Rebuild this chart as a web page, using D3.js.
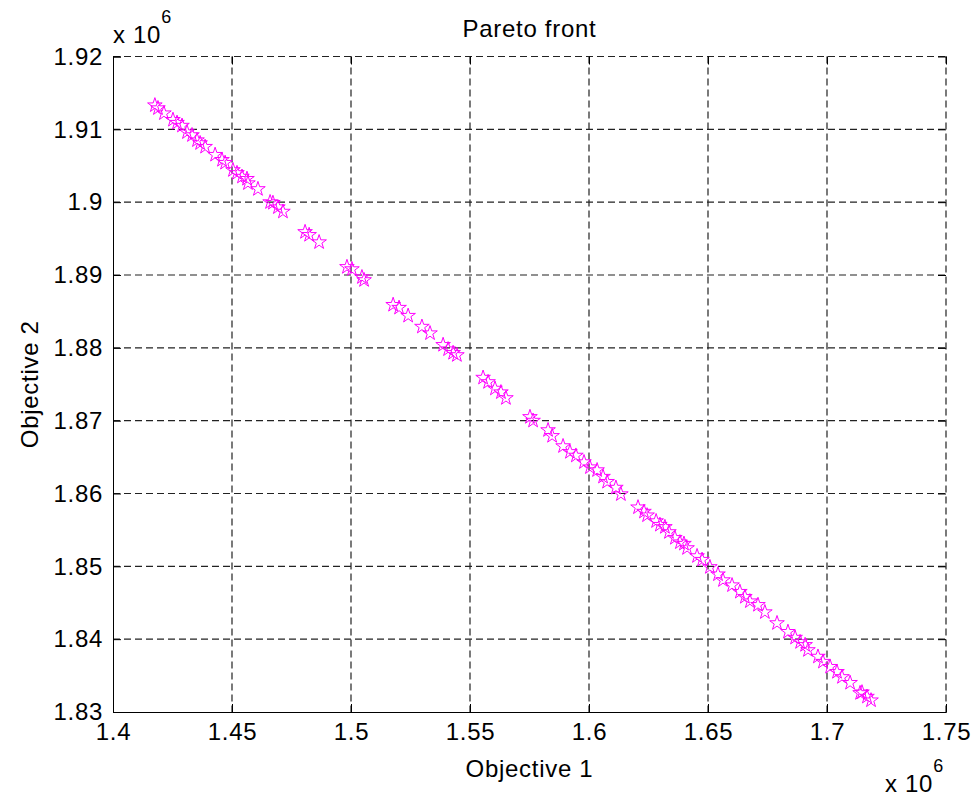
<!DOCTYPE html>
<html>
<head>
<meta charset="utf-8">
<script src="https://cdn.jsdelivr.net/npm/d3@7"></script>
<style>
body { margin: 0; background: #fff; }
text { font-family: "Liberation Sans", Arial, Helvetica, sans-serif; fill: #000; }
</style>
</head>
<body>
<script>
// Pareto front, both objectives in units of 1e6
const obj1 = [
    1.4176, 1.4189, 1.4214, 1.4252, 1.4269, 1.4290, 1.4311, 1.4332, 1.4353, 1.4366,
    1.4387, 1.4429, 1.4458, 1.4471, 1.4504, 1.4521, 1.4542, 1.4563, 1.4567, 1.4609,
    1.4660, 1.4672, 1.4693, 1.4714, 1.4807, 1.4824, 1.4866, 1.4983, 1.5004, 1.5046,
    1.5055, 1.5177, 1.5202, 1.5240, 1.5298, 1.5332, 1.5387, 1.5408, 1.5429, 1.5445,
    1.5555, 1.5576, 1.5605, 1.5630, 1.5651, 1.5752, 1.5765, 1.5828, 1.5845, 1.5891,
    1.5920, 1.5945, 1.5979, 1.6004, 1.6034, 1.6059, 1.6076, 1.6113, 1.6134, 1.6206,
    1.6231, 1.6244, 1.6282, 1.6298, 1.6319, 1.6336, 1.6361, 1.6382, 1.6399, 1.6412,
    1.6454, 1.6475, 1.6508, 1.6542, 1.6563, 1.6601, 1.6634, 1.6655, 1.6676, 1.6710,
    1.6739, 1.6790, 1.6836, 1.6866, 1.6887, 1.6908, 1.6920, 1.6962, 1.6983, 1.7013,
    1.7042, 1.7063, 1.7097, 1.7139, 1.7147, 1.7168, 1.7185
];
const obj2 = [
    1.9133, 1.9129, 1.9122, 1.9113, 1.9109, 1.9105, 1.9096, 1.9092, 1.9085, 1.9081,
    1.9076, 1.9065, 1.9058, 1.9054, 1.9044, 1.9040, 1.9035, 1.9032, 1.9026, 1.9018,
    1.9000, 1.8999, 1.8993, 1.8987, 1.8959, 1.8955, 1.8945, 1.8911, 1.8908, 1.8897,
    1.8893, 1.8859, 1.8855, 1.8844, 1.8829, 1.8820, 1.8804, 1.8798, 1.8793, 1.8790,
    1.8759, 1.8753, 1.8744, 1.8739, 1.8731, 1.8705, 1.8700, 1.8687, 1.8679, 1.8665,
    1.8657, 1.8652, 1.8643, 1.8636, 1.8632, 1.8623, 1.8616, 1.8608, 1.8599, 1.8581,
    1.8575, 1.8570, 1.8562, 1.8557, 1.8554, 1.8547, 1.8539, 1.8533, 1.8531, 1.8525,
    1.8514, 1.8509, 1.8499, 1.8489, 1.8481, 1.8474, 1.8465, 1.8458, 1.8452, 1.8447,
    1.8437, 1.8422, 1.8410, 1.8402, 1.8396, 1.8392, 1.8385, 1.8376, 1.8369, 1.8362,
    1.8355, 1.8348, 1.8340, 1.8326, 1.8327, 1.8321, 1.8316
];
const xTicks = [1.4, 1.45, 1.5, 1.55, 1.6, 1.65, 1.7, 1.75];
const xTickLabels = ['1.4', '1.45', '1.5', '1.55', '1.6', '1.65', '1.7', '1.75'];
const yTicks = [1.83, 1.84, 1.85, 1.86, 1.87, 1.88, 1.89, 1.9, 1.91, 1.92];
const yTickLabels = ['1.83', '1.84', '1.85', '1.86', '1.87', '1.88', '1.89', '1.9', '1.91', '1.92'];

function plot()
{
    const W = 977, H = 801;
    const left = 113, right = 946, top = 56.5, bottom = 712;
    const fs = 24, ls = '0.7px';

    const svg = d3.select('body').append('svg')
        .attr('width', W)
        .attr('height', H);

    const scX = d3.scaleLinear().domain([1.4, 1.75]).range([left, right]);
    const scY = d3.scaleLinear().domain([1.83, 1.92]).range([bottom, top]);

    // dashed grid
    const grid = svg.append('g').attr('id', 'grid')
        .attr('stroke', '#222')
        .attr('stroke-width', 1.2)
        .attr('stroke-dasharray', '7,4');
    grid.selectAll('line.gx')
        .data(xTicks.slice(1, -1)).enter().append('line')
        .attr('class', 'gx')
        .attr('x1', d => scX(d)).attr('x2', d => scX(d))
        .attr('y1', top).attr('y2', bottom);
    grid.selectAll('line.gy')
        .data(yTicks.slice(1, -1)).enter().append('line')
        .attr('class', 'gy')
        .attr('x1', left).attr('x2', right)
        .attr('y1', d => scY(d)).attr('y2', d => scY(d));
    // dashed top/right border as in the figure
    grid.append('line').attr('x1', left).attr('x2', right).attr('y1', top).attr('y2', top);
    grid.append('line').attr('x1', right).attr('x2', right).attr('y1', top).attr('y2', bottom);

    // axes with inward ticks
    const fmtX = d => xTickLabels[xTicks.indexOf(d)];
    const fmtY = d => yTickLabels[yTicks.indexOf(d)];
    const ax = svg.append('g')
        .attr('transform', `translate(0,${bottom})`)
        .call(d3.axisBottom(scX).tickValues(xTicks).tickFormat(fmtX).tickSize(-8).tickPadding(11));
    const ay = svg.append('g')
        .attr('transform', `translate(${left},0)`)
        .call(d3.axisLeft(scY).tickValues(yTicks).tickFormat(fmtY).tickSize(-8).tickPadding(10));
    svg.append('g')
        .attr('transform', `translate(0,${top})`)
        .call(d3.axisTop(scX).tickValues(xTicks).tickFormat('').tickSize(-8))
        .select('.domain').remove();
    svg.append('g')
        .attr('transform', `translate(${right},0)`)
        .call(d3.axisRight(scY).tickValues(yTicks).tickFormat('').tickSize(-8))
        .select('.domain').remove();
    svg.selectAll('.tick line').attr('stroke', '#000');
    [ax, ay].forEach(a => {
        a.select('.domain').attr('stroke', '#000');
        a.selectAll('text')
            .attr('font-size', fs)
            .attr('letter-spacing', ls)
            .attr('font-family', '"Liberation Sans", Arial, sans-serif')
            .attr('fill', '#000');
    });
    ax.selectAll('text').attr('dy', '0.72em');

    // markers
    const star = d3.symbol().type(d3.symbolStar).size(66);
    svg.append('g').attr('id', 'front')
        .selectAll('path')
        .data(obj1.map((v, i) => [v, obj2[i]])).enter().append('path')
        .attr('d', star)
        .attr('transform', d => `translate(${scX(d[0])},${scY(d[1])})`)
        .attr('fill', 'none')
        .attr('stroke', '#ff00ff')
        .attr('stroke-width', 1);

    // labels
    svg.append('text')
        .attr('x', (left + right) / 2).attr('y', 37)
        .attr('text-anchor', 'middle')
        .attr('font-size', fs).attr('letter-spacing', ls)
        .text('Pareto front');
    svg.append('text')
        .attr('x', (left + right) / 2).attr('y', 777)
        .attr('text-anchor', 'middle')
        .attr('font-size', fs).attr('letter-spacing', ls)
        .text('Objective 1');
    svg.append('text')
        .attr('transform', `translate(38,${(top + bottom) / 2}) rotate(-90)`)
        .attr('text-anchor', 'middle')
        .attr('font-size', fs).attr('letter-spacing', ls)
        .text('Objective 2');

    // exponent labels
    const expo = (x, y) => {
        const t = svg.append('text')
            .attr('x', x).attr('y', y)
            .attr('font-size', fs).attr('letter-spacing', ls);
        t.append('tspan').text('x 10');
        t.append('tspan').attr('dy', -20).attr('font-size', 18).text('6');
    };
    expo(113, 43);
    expo(885, 792);
}

function main()
{
    plot();
}

main();
</script>
</body>
</html>
